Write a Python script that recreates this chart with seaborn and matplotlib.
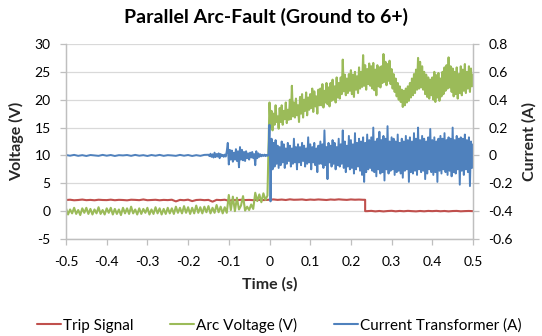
import numpy as np
import matplotlib
matplotlib.use("Agg")
import matplotlib.pyplot as plt
import seaborn as sns
from matplotlib.lines import Line2D

# ---------------- data ----------------
TITLE = "Parallel Arc-Fault (Ground to 6+)"
SERIES_NAMES = ["Trip Signal", "Arc Voltage (V)", "Current Transformer (A)"]
X_TICKS = [-0.5, -0.4, -0.3, -0.2, -0.1, 0.0, 0.1, 0.2, 0.3, 0.4, 0.5]
X_TICK_LABELS = ["-0.5", "-0.4", "-0.3", "-0.2", "-0.1", "0", "0.1", "0.2", "0.3", "0.4", "0.5"]
LEFT_TICKS = [-5, 0, 5, 10, 15, 20, 25, 30]
RIGHT_TICKS = [-0.6, -0.4, -0.2, 0.0, 0.2, 0.4, 0.6, 0.8]
RIGHT_TICK_LABELS = ["-0.6", "-0.4", "-0.2", "0", "0.2", "0.4", "0.6", "0.8"]

# sample intervals of the recorded waveforms (s)
DT_FINE = 0.0025
DT_PRE = 0.005
DT_SLOW = 0.01

# Arc voltage (V): pre-fault from -0.5 s (DT_PRE), post-fault from 0 s (DT_FINE)
arc_pre = [
    0.5, -0.6, 0.3, -0.4, 0.6, -0.5, 0.2, -0.7, 0.5, -0.3,
    0.6, -0.5, 0.4, -0.6, 0.3, -0.4, 0.7, -0.5, 0.2, -0.6,
    0.5, -0.3, 0.6, -0.6, 0.4, -0.5, 0.3, -0.7, 0.6, -0.4,
    0.5, -0.5, 0.8, -0.4, 0.3, -0.6, 0.5, -0.5, 0.4, -0.3,
    0.6, -0.6, 0.3, -0.5, 0.7, -0.4, 0.5, -0.6, 0.4, -0.5,
    0.6, -0.4, 0.5, -0.5, 0.8, -0.3, 0.6, -0.4, 0.9, -0.3,
    0.7, -0.5, 0.6, -0.4, 1.0, -0.3, 0.7, -0.4, 0.8, -0.2,
    0.9, -0.4, 0.6, -0.3, 1.1, -0.2, 0.8, -0.4, 0.7, -0.3,
    2.9, 0.2, 2.6, 0.0, 2.4, 0.3, 1.0, 2.7, 0.1, 0.8,
    0.2, 1.2, 0.4,
    3.3, 1.8, 3.0, 1.6, 3.2, 2.0, 2.8,
]
arc_post = [
    19.5, 15.0, 18.0, 14.5, 17.5, 15.5, 19.0, 16.0, 17.0, 14.8,
    18.5, 16.0, 19.0, 15.5, 18.0, 16.5, 19.5, 15.8, 18.2, 16.4,
    20.0, 16.5, 22.5, 17.0, 19.5, 16.8, 20.2, 17.2, 19.0, 16.0,
    20.5, 17.5, 21.0, 16.8, 20.0, 18.0, 21.3, 17.2, 20.4, 18.2,
    21.0, 18.5, 22.0, 17.8, 21.5, 18.8, 20.6, 17.5, 21.8, 19.0,
    22.0, 19.0, 22.8, 18.6, 21.6, 19.5, 23.0, 19.2, 22.2, 18.8,
    23.0, 19.8, 23.6, 20.0, 22.4, 19.5, 24.0, 20.4, 23.0, 20.2,
    24.0, 21.0, 27.2, 21.5, 24.5, 20.8, 23.8, 21.2, 24.6, 21.6,
    25.3, 21.0, 24.5, 20.5, 25.0, 21.8, 24.2, 21.2, 25.8, 22.0,
    25.0, 22.3, 28.0, 22.5, 26.2, 21.8, 25.5, 22.8, 26.5, 22.5,
    26.0, 22.0, 26.6, 21.7, 25.4, 20.8, 26.2, 22.4, 25.8, 22.2,
    26.0, 23.0, 28.2, 23.2, 26.8, 22.6, 26.4, 23.4, 27.0, 22.8,
    25.5, 22.0, 24.6, 21.4, 23.8, 20.6, 23.0, 20.0, 22.4, 19.6,
    21.8, 18.7, 21.6, 19.0, 22.0, 19.5, 22.4, 19.8, 23.0, 20.4,
    23.8, 20.8, 24.6, 21.2, 25.4, 21.8, 27.5, 22.0, 26.8, 22.2,
    26.0, 21.8, 25.0, 21.0, 24.5, 20.5, 24.0, 20.2, 23.6, 20.8,
    24.0, 20.0, 25.0, 19.6, 24.4, 20.4, 24.8, 19.8, 23.8, 20.6,
    25.0, 21.0, 25.8, 21.6, 26.2, 22.0, 27.6, 22.2, 26.0, 21.4,
    25.6, 20.6, 25.0, 21.0, 25.8, 20.2, 24.6, 21.2, 26.0, 20.8,
    25.4, 21.6, 26.4, 21.2, 25.0, 22.0, 26.0, 21.4, 25.6, 22.4, 24.5,
]

# Current transformer (A): quiet part from -0.5 s (DT_SLOW),
# bursts from -0.15 s (DT_FINE), post-fault from 0 s (DT_FINE)
ct_quiet = [
    0.003, -0.002, 0.004, -0.003, 0.002, -0.004, 0.003, 0.0, -0.003, 0.004,
    -0.002, 0.003, -0.004, 0.002, 0.0, 0.003, -0.003, 0.004, -0.002, 0.002,
    -0.004, 0.003, -0.002, 0.004, -0.003, 0.002, 0.0, -0.003, 0.004, -0.002,
    0.003, -0.004, 0.002, -0.003, 0.004,
]
ct_burst = [
    0.005, -0.005, 0.012, -0.01, 0.008, -0.015, 0.02, -0.012, 0.01, -0.008,
    0.015, -0.02, 0.01, -0.006, 0.004, -0.01, 0.006, -0.008, 0.03, 0.09,
    -0.065, 0.04, -0.03, 0.035, -0.045, 0.02, -0.03, 0.045, -0.04, 0.03,
    -0.085, 0.06, -0.03, 0.04, -0.035, 0.025, -0.04, 0.03, -0.02, 0.015,
    -0.03, 0.02, -0.015, 0.025, -0.02, 0.01, -0.07, 0.03, -0.02, 0.015,
    -0.01, 0.008, -0.006, 0.005, -0.004, 0.006, -0.005, 0.004, -0.003, 0.002,
]
ct_post = [
    0.22, -0.33, 0.12, -0.10, 0.09, -0.08, 0.11, -0.06, 0.07, -0.09,
    0.06, -0.07, 0.10, -0.05, 0.08, -0.09, 0.05, -0.06, 0.09, -0.04,
    0.07, -0.08, 0.05, -0.06, 0.12, -0.05, 0.06, -0.10, 0.08, -0.05,
    0.06, -0.07, 0.09, -0.04, 0.07, -0.08, 0.05, -0.06, 0.13, -0.05,
    0.08, -0.10, 0.06, -0.05, 0.09, -0.07, 0.05, -0.12, 0.07, -0.06,
    0.10, -0.06, 0.08, -0.09, 0.18, -0.07, 0.06, -0.17, 0.09, -0.05,
    0.07, -0.08, 0.11, -0.06, 0.09, -0.10, 0.06, -0.07, 0.12, -0.08,
    0.08, -0.06, 0.18, -0.09, 0.10, -0.12, 0.07, -0.08, 0.14, -0.10,
    0.11, -0.09, 0.08, -0.13, 0.16, -0.10, 0.09, -0.08, 0.12, -0.11,
    0.10, -0.14, 0.13, -0.19, 0.09, -0.12, 0.15, -0.10, 0.11, -0.09,
    0.13, -0.11, 0.20, -0.12, 0.10, -0.15, 0.12, -0.10, 0.17, -0.13,
    0.11, -0.12, 0.14, -0.18, 0.12, -0.10, 0.21, -0.13, 0.10, -0.11,
    0.13, -0.10, 0.12, -0.14, 0.10, -0.12, 0.15, -0.11, 0.09, -0.13,
    0.12, -0.16, 0.10, -0.11, 0.14, -0.10, 0.11, -0.19, 0.13, -0.12,
    0.10, -0.13, 0.16, -0.11, 0.12, -0.14, 0.20, -0.10, 0.11, -0.12,
    0.14, -0.11, 0.12, -0.17, 0.10, -0.13, 0.13, -0.10, 0.19, -0.12,
    0.11, -0.14, 0.13, -0.12, 0.10, -0.19, 0.12, -0.11, 0.14, -0.13,
    0.12, -0.10, 0.16, -0.12, 0.11, -0.14, 0.13, -0.11, 0.12, -0.15,
    0.20, -0.12, 0.11, -0.13, 0.14, -0.10, 0.12, -0.21, 0.13, -0.11,
    0.12, -0.14, 0.15, -0.10, 0.11, -0.12, 0.13, -0.22, 0.10, -0.09, 0.08,
]

# Trip signal (V): high from -0.5 s (DT_SLOW), drops at TRIP_TIME, low after
TRIP_TIME = 0.235
trip_high = [
    2.0, 2.05, 1.95, 2.0, 2.08, 1.97, 2.02, 1.95, 2.05, 2.0,
    1.98, 2.06, 1.96, 2.03, 2.0, 1.94, 2.05, 2.02, 1.97, 2.1,
    1.96, 2.0, 2.04, 1.95, 2.02,
    1.98, 2.05, 1.75, 2.02, 1.96, 2.06, 1.8, 2.0, 2.04, 1.97,
    2.02, 1.7, 2.03, 1.98, 2.05, 1.85, 2.0, 1.96, 2.04, 1.99,
    2.02, 1.97, 2.03, 1.98, 2.0,
    2.05, 2.1, 2.02, 2.08, 2.0, 2.12, 2.04, 2.06, 2.1, 2.0,
    2.08, 2.03, 2.1, 2.05, 2.0, 2.09, 2.04, 2.12, 2.06, 2.02,
    2.1, 2.05, 2.08, 2.04,
]
trip_low = [
    0.0, 0.05, -0.04, 0.03, -0.05, 0.02, 0.06, -0.03, 0.04, -0.02,
    0.05, 0.0, -0.04, 0.03, -0.03, 0.04, 0.0, 0.05, -0.02, 0.03,
    -0.04, 0.02, 0.04, -0.03, 0.01, 0.03, 0.0,
]

COLORS = ["#C0504D", "#9BBB59", "#4F81BD"]

# ---------------- time bases ----------------
arc_t = np.concatenate([-0.5 + DT_PRE * np.arange(len(arc_pre)),
                        0.0 + DT_FINE * np.arange(len(arc_post))])
arc_v = np.array(arc_pre + arc_post)

ct_t = np.concatenate([-0.5 + DT_SLOW * np.arange(len(ct_quiet)),
                       -0.15 + DT_FINE * np.arange(len(ct_burst)),
                       0.0 + DT_FINE * np.arange(len(ct_post))])
ct_v = np.array(ct_quiet + ct_burst + ct_post)

trip_t = np.concatenate([-0.5 + DT_SLOW * np.arange(len(trip_high)),
                         [TRIP_TIME, TRIP_TIME],
                         0.24 + DT_SLOW * np.arange(len(trip_low))])
trip_v = np.array(trip_high + [trip_high[-1], trip_low[0]] + trip_low)

# ---------------- plot ----------------
sns.set_theme(style="white")
plt.rcParams["font.family"] = ["Lato", "DejaVu Sans"]
plt.rcParams["text.color"] = "#000000"

W, H = 542, 336
fig = plt.figure(figsize=(W / 100, H / 100), dpi=100)
L, R, T, B = 66, 473, 44, 239
ax = fig.add_axes([L / W, 1 - B / H, (R - L) / W, (B - T) / H])
ax2 = ax.twinx()

sns.lineplot(x=trip_t, y=trip_v, ax=ax, color=COLORS[0], linewidth=1.5,
             estimator=None, sort=False)
sns.lineplot(x=arc_t, y=arc_v, ax=ax, color=COLORS[1], linewidth=1.5,
             estimator=None, sort=False)
sns.lineplot(x=ct_t, y=ct_v, ax=ax2, color=COLORS[2], linewidth=1.4,
             estimator=None, sort=False)

ax.set_xlim(-0.5, 0.5)
ax.set_ylim(-5, 30)
ax2.set_ylim(-0.6, 0.8)

GRID = "#D9D9D9"
AXC = "#BFBFBF"
TICK_FS = 10

ax.set_xticks(X_TICKS)
ax.set_xticklabels(X_TICK_LABELS)
ax.set_yticks(LEFT_TICKS)
ax.set_yticklabels([str(v) for v in LEFT_TICKS])
ax2.set_yticks(RIGHT_TICKS)
ax2.set_yticklabels(RIGHT_TICK_LABELS)

ax.yaxis.grid(True, color=GRID, linewidth=0.9)
ax.xaxis.grid(False)
ax2.grid(False)
ax.set_axisbelow(True)

for a in (ax, ax2):
    a.spines["top"].set_visible(False)
    for s in ("left", "right", "bottom"):
        a.spines[s].set_color(AXC)
        a.spines[s].set_linewidth(0.9)
    a.tick_params(axis="both", which="major", direction="out", length=4,
                  width=0.9, color=AXC, labelsize=TICK_FS, labelcolor="#000000", pad=7)
ax.tick_params(axis="y", left=True, right=False)
ax2.tick_params(axis="y", right=True, left=False)
ax.tick_params(axis="x", bottom=True, pad=8)

LABEL_FS = 11.5
ax.set_xlabel("Time (s)", fontsize=LABEL_FS, fontweight="bold")
ax.set_ylabel("Voltage (V)", fontsize=LABEL_FS, fontweight="bold")
ax2.set_ylabel("Current (A)", fontsize=LABEL_FS, fontweight="bold")
ax.xaxis.set_label_coords(0.5, -(284 - B) / (B - T))
ax.yaxis.set_label_coords((17 - L) / (R - L), 0.5)
ax2.yaxis.set_label_coords((529 - L) / (R - L), 0.5)
ax.yaxis.label.set_va("center")
ax2.yaxis.label.set_va("center")
ax.xaxis.label.set_va("center")

fig.text(0.49, 1 - 17 / H, TITLE, ha="center", va="center",
         fontsize=14, fontweight="bold")

handles = [Line2D([0], [0], color=c, linewidth=1.5) for c in COLORS]
fig.legend(handles, SERIES_NAMES, loc="center", bbox_to_anchor=(0.515, 1 - 325 / H),
           ncol=3, frameon=False, fontsize=11, handlelength=1.6,
           handletextpad=0.1, columnspacing=2.4)

fig.savefig("out.png", dpi=100)
